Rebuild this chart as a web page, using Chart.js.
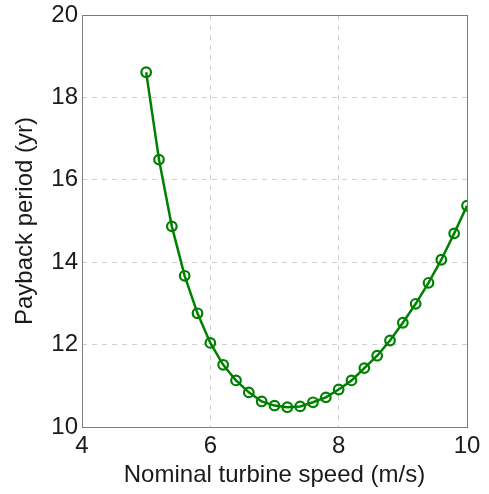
<!DOCTYPE html>
<html>
<head>
<meta charset="utf-8">
<script src="https://cdn.jsdelivr.net/npm/chart.js@4/dist/chart.umd.min.js"></script>
<style>
html,body{margin:0;padding:0;background:#fff;}
#wrap{width:489px;height:494px;position:relative;}
</style>
</head>
<body>
<div id="wrap"><canvas id="c" width="489" height="494"></canvas></div>
<script>
const speeds = [5.0,5.2,5.4,5.6,5.8,6.0,6.2,6.4,6.6,6.8,7.0,7.2,7.4,7.6,7.8,8.0,8.2,8.4,8.6,8.8,9.0,9.2,9.4,9.6,9.8,10.0];
const payback = [18.61,16.49,14.87,13.67,12.76,12.04,11.51,11.13,10.84,10.62,10.52,10.48,10.50,10.60,10.72,10.91,11.13,11.43,11.73,12.10,12.53,12.99,13.50,14.06,14.70,15.37];
const xTicks = [4,6,8,10];
const yTicks = [10,12,14,16,18,20];
const xTitle = 'Nominal turbine speed (m/s)';
const yTitle = 'Payback period (yr)';

const green = '#008000';
const FONT = 'Liberation Sans, Arial, Helvetica, sans-serif';

const boxPlugin = {
  id: 'box',
  afterDraw(chart) {
    const a = chart.chartArea, ctx = chart.ctx;
    ctx.save();
    ctx.strokeStyle = '#7a7a7a';
    ctx.lineWidth = 1;
    ctx.setLineDash([]);
    ctx.strokeRect(Math.round(a.left) + 0.5, Math.round(a.top) + 0.5, Math.round(a.right - a.left), Math.round(a.bottom - a.top));
    ctx.restore();
  }
};

new Chart(document.getElementById('c'), {
  type: 'scatter',
  data: {
    datasets: [{
      data: speeds.map((x, i) => ({x: x, y: payback[i]})),
      showLine: true,
      borderColor: green,
      borderWidth: 2.5,
      pointRadius: 4.8,
      pointBorderWidth: 2.2,
      pointBorderColor: green,
      pointBackgroundColor: 'rgba(255,255,255,0)',
      tension: 0
    }]
  },
  plugins: [boxPlugin],
  options: {
    responsive: false,
    animation: false,
    devicePixelRatio: 1,
    layout: { padding: { left: 0, top: 15, right: 22, bottom: 0 } },
    plugins: { legend: { display: false }, tooltip: { enabled: false } },
    scales: {
      x: {
        type: 'linear',
        min: 4, max: 10,
        afterBuildTicks: s => { s.ticks = xTicks.map(v => ({value: v})); },
        afterFit: s => { s.height = 67; s.paddingLeft = 0; s.paddingRight = 0; },
        ticks: { color: '#1a1a1a', font: { family: FONT, size: 24 }, padding: 5, maxRotation: 0 },
        grid: {
          color: c => (c.tick && (c.tick.value === 4 || c.tick.value === 10)) ? 'rgba(0,0,0,0)' : '#d0d0d0',
          lineWidth: 1, drawTicks: false
        },
        border: { display: false, dash: [5, 5] },
        title: { display: true, text: xTitle, color: '#1a1a1a', font: { family: FONT, size: 24 }, padding: { top: 0, bottom: 4 } }
      },
      y: {
        type: 'linear',
        min: 10, max: 20,
        afterBuildTicks: s => { s.ticks = yTicks.map(v => ({value: v})); },
        afterFit: s => { s.width = 82; s.paddingTop = 0; s.paddingBottom = 0; },
        ticks: { color: '#1a1a1a', font: { family: FONT, size: 24 }, padding: 4 },
        grid: {
          color: c => (c.tick && (c.tick.value === 10 || c.tick.value === 20)) ? 'rgba(0,0,0,0)' : '#d0d0d0',
          lineWidth: 1, drawTicks: false
        },
        border: { display: false, dash: [5, 5] },
        title: { display: true, text: yTitle, color: '#1a1a1a', font: { family: FONT, size: 24 }, padding: { top: 11, bottom: 0 } }
      }
    }
  }
});
</script>
</body>
</html>
